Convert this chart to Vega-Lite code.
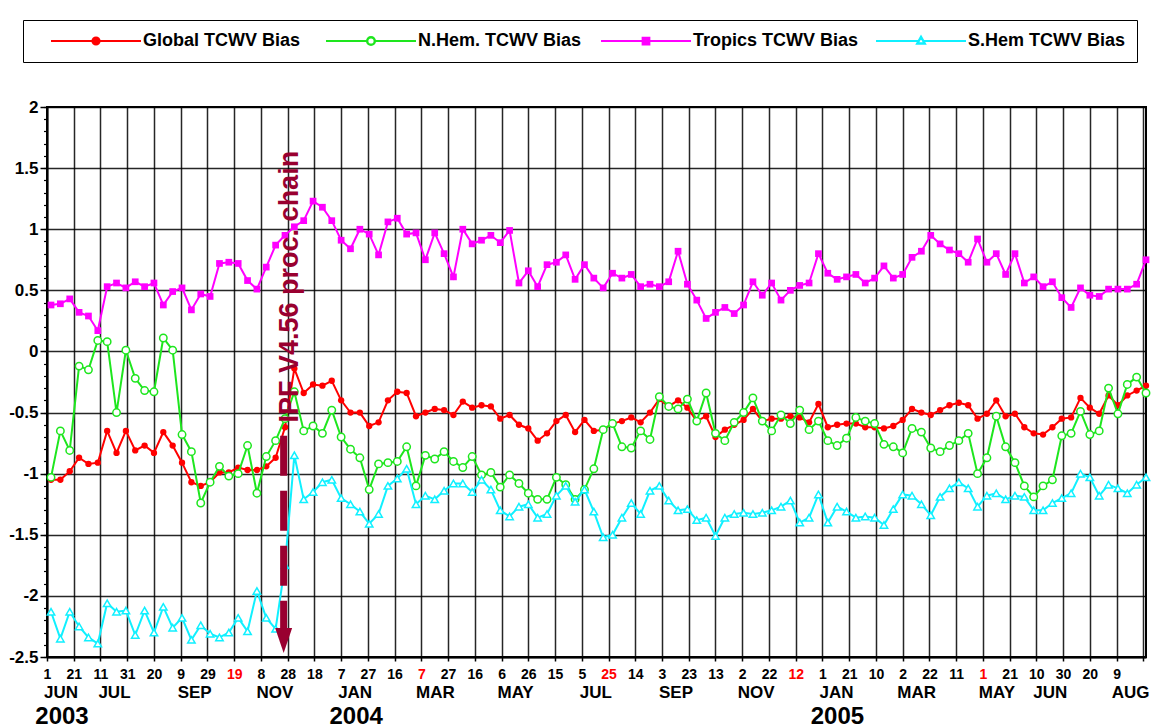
{
"$schema": "https://vega.github.io/schema/vega-lite/v6.json",
"width": 1099, "height": 550,
"autosize": {"type": "none"},
"padding": {"left": 47, "top": 107, "right": 5, "bottom": 70},
"background": "white",
"config": {"font": "Liberation Sans", "view": {"stroke": "black", "strokeWidth": 2}},
"data": {"values": [
{"d":"2003-06-04","g":-1.05,"n":-1.03,"t":0.38,"s":-2.13},
{"d":"2003-06-11","g":-1.05,"n":-0.65,"t":0.39,"s":-2.35},
{"d":"2003-06-18","g":-0.98,"n":-0.81,"t":0.43,"s":-2.13},
{"d":"2003-06-25","g":-0.87,"n":-0.12,"t":0.32,"s":-2.25},
{"d":"2003-07-02","g":-0.92,"n":-0.15,"t":0.29,"s":-2.34},
{"d":"2003-07-09","g":-0.91,"n":0.09,"t":0.17,"s":-2.39},
{"d":"2003-07-16","g":-0.65,"n":0.08,"t":0.53,"s":-2.06},
{"d":"2003-07-23","g":-0.83,"n":-0.50,"t":0.56,"s":-2.13},
{"d":"2003-07-30","g":-0.65,"n":0.01,"t":0.52,"s":-2.12},
{"d":"2003-08-06","g":-0.81,"n":-0.22,"t":0.57,"s":-2.32},
{"d":"2003-08-13","g":-0.77,"n":-0.32,"t":0.53,"s":-2.12},
{"d":"2003-08-20","g":-0.83,"n":-0.33,"t":0.56,"s":-2.30},
{"d":"2003-08-27","g":-0.66,"n":0.11,"t":0.38,"s":-2.09},
{"d":"2003-09-03","g":-0.77,"n":0.01,"t":0.49,"s":-2.26},
{"d":"2003-09-10","g":-0.91,"n":-0.68,"t":0.52,"s":-2.18},
{"d":"2003-09-17","g":-1.07,"n":-0.82,"t":0.34,"s":-2.36},
{"d":"2003-09-24","g":-1.10,"n":-1.24,"t":0.47,"s":-2.24},
{"d":"2003-10-01","g":-1.07,"n":-1.07,"t":0.45,"s":-2.31},
{"d":"2003-10-08","g":-0.99,"n":-0.94,"t":0.72,"s":-2.34},
{"d":"2003-10-15","g":-0.99,"n":-1.02,"t":0.73,"s":-2.30},
{"d":"2003-10-22","g":-0.95,"n":-1.00,"t":0.72,"s":-2.18},
{"d":"2003-10-29","g":-0.97,"n":-0.77,"t":0.58,"s":-2.29},
{"d":"2003-11-05","g":-0.97,"n":-1.16,"t":0.51,"s":-1.96},
{"d":"2003-11-12","g":-0.94,"n":-0.86,"t":0.69,"s":-2.18},
{"d":"2003-11-19","g":-0.87,"n":-0.73,"t":0.87,"s":-2.27},
{"d":"2003-11-26","g":-0.62,"n":-0.55,"t":0.95,"s":-1.75},
{"d":"2003-12-03","g":-0.14,"n":-0.33,"t":1.02,"s":-0.85},
{"d":"2003-12-10","g":-0.34,"n":-0.65,"t":1.07,"s":-1.21},
{"d":"2003-12-17","g":-0.27,"n":-0.61,"t":1.23,"s":-1.15},
{"d":"2003-12-24","g":-0.28,"n":-0.67,"t":1.18,"s":-1.07},
{"d":"2003-12-31","g":-0.24,"n":-0.48,"t":1.07,"s":-1.05},
{"d":"2004-01-07","g":-0.40,"n":-0.70,"t":0.91,"s":-1.20},
{"d":"2004-01-14","g":-0.50,"n":-0.80,"t":0.84,"s":-1.25},
{"d":"2004-01-21","g":-0.50,"n":-0.87,"t":1.00,"s":-1.31},
{"d":"2004-01-28","g":-0.61,"n":-1.13,"t":0.96,"s":-1.41},
{"d":"2004-02-04","g":-0.58,"n":-0.92,"t":0.79,"s":-1.33},
{"d":"2004-02-11","g":-0.40,"n":-0.91,"t":1.06,"s":-1.10},
{"d":"2004-02-18","g":-0.33,"n":-0.90,"t":1.09,"s":-1.04},
{"d":"2004-02-25","g":-0.34,"n":-0.78,"t":0.96,"s":-0.96},
{"d":"2004-03-03","g":-0.53,"n":-1.10,"t":0.97,"s":-1.25},
{"d":"2004-03-10","g":-0.50,"n":-0.85,"t":0.75,"s":-1.18},
{"d":"2004-03-17","g":-0.47,"n":-0.88,"t":0.97,"s":-1.21},
{"d":"2004-03-24","g":-0.48,"n":-0.82,"t":0.80,"s":-1.14},
{"d":"2004-03-31","g":-0.52,"n":-0.90,"t":0.61,"s":-1.08},
{"d":"2004-04-07","g":-0.41,"n":-0.95,"t":1.00,"s":-1.08},
{"d":"2004-04-14","g":-0.46,"n":-0.86,"t":0.88,"s":-1.15},
{"d":"2004-04-21","g":-0.44,"n":-1.01,"t":0.91,"s":-1.05},
{"d":"2004-04-28","g":-0.45,"n":-0.99,"t":0.95,"s":-1.13},
{"d":"2004-05-05","g":-0.55,"n":-1.11,"t":0.89,"s":-1.30},
{"d":"2004-05-12","g":-0.52,"n":-1.01,"t":0.99,"s":-1.35},
{"d":"2004-05-19","g":-0.60,"n":-1.08,"t":0.56,"s":-1.27},
{"d":"2004-05-26","g":-0.63,"n":-1.16,"t":0.66,"s":-1.25},
{"d":"2004-06-02","g":-0.73,"n":-1.21,"t":0.53,"s":-1.36},
{"d":"2004-06-09","g":-0.67,"n":-1.21,"t":0.71,"s":-1.33},
{"d":"2004-06-16","g":-0.57,"n":-1.03,"t":0.73,"s":-1.18},
{"d":"2004-06-23","g":-0.52,"n":-1.09,"t":0.79,"s":-1.10},
{"d":"2004-06-30","g":-0.66,"n":-1.21,"t":0.59,"s":-1.23},
{"d":"2004-07-07","g":-0.56,"n":-1.13,"t":0.71,"s":-1.13},
{"d":"2004-07-14","g":-0.65,"n":-0.96,"t":0.60,"s":-1.31},
{"d":"2004-07-21","g":-0.64,"n":-0.64,"t":0.52,"s":-1.52},
{"d":"2004-07-28","g":-0.59,"n":-0.59,"t":0.64,"s":-1.50},
{"d":"2004-08-04","g":-0.57,"n":-0.78,"t":0.60,"s":-1.36},
{"d":"2004-08-11","g":-0.54,"n":-0.79,"t":0.63,"s":-1.24},
{"d":"2004-08-18","g":-0.58,"n":-0.65,"t":0.53,"s":-1.33},
{"d":"2004-08-25","g":-0.50,"n":-0.72,"t":0.55,"s":-1.14},
{"d":"2004-09-01","g":-0.39,"n":-0.37,"t":0.53,"s":-1.10},
{"d":"2004-09-08","g":-0.45,"n":-0.45,"t":0.57,"s":-1.22},
{"d":"2004-09-15","g":-0.40,"n":-0.47,"t":0.82,"s":-1.30},
{"d":"2004-09-22","g":-0.46,"n":-0.39,"t":0.55,"s":-1.29},
{"d":"2004-09-29","g":-0.57,"n":-0.57,"t":0.42,"s":-1.38},
{"d":"2004-10-06","g":-0.53,"n":-0.34,"t":0.27,"s":-1.36},
{"d":"2004-10-13","g":-0.70,"n":-0.67,"t":0.32,"s":-1.51},
{"d":"2004-10-20","g":-0.64,"n":-0.73,"t":0.36,"s":-1.36},
{"d":"2004-10-27","g":-0.60,"n":-0.58,"t":0.31,"s":-1.33},
{"d":"2004-11-03","g":-0.56,"n":-0.50,"t":0.38,"s":-1.32},
{"d":"2004-11-10","g":-0.47,"n":-0.38,"t":0.57,"s":-1.33},
{"d":"2004-11-17","g":-0.57,"n":-0.57,"t":0.46,"s":-1.32},
{"d":"2004-11-24","g":-0.55,"n":-0.65,"t":0.56,"s":-1.30},
{"d":"2004-12-01","g":-0.55,"n":-0.52,"t":0.42,"s":-1.27},
{"d":"2004-12-08","g":-0.53,"n":-0.59,"t":0.50,"s":-1.22},
{"d":"2004-12-15","g":-0.54,"n":-0.48,"t":0.54,"s":-1.40},
{"d":"2004-12-22","g":-0.58,"n":-0.64,"t":0.56,"s":-1.36},
{"d":"2004-12-29","g":-0.43,"n":-0.57,"t":0.80,"s":-1.17},
{"d":"2005-01-05","g":-0.62,"n":-0.73,"t":0.64,"s":-1.40},
{"d":"2005-01-12","g":-0.60,"n":-0.77,"t":0.59,"s":-1.27},
{"d":"2005-01-19","g":-0.59,"n":-0.71,"t":0.61,"s":-1.31},
{"d":"2005-01-26","g":-0.59,"n":-0.54,"t":0.63,"s":-1.36},
{"d":"2005-02-02","g":-0.62,"n":-0.57,"t":0.56,"s":-1.35},
{"d":"2005-02-09","g":-0.62,"n":-0.59,"t":0.60,"s":-1.36},
{"d":"2005-02-16","g":-0.63,"n":-0.76,"t":0.70,"s":-1.42},
{"d":"2005-02-23","g":-0.61,"n":-0.78,"t":0.60,"s":-1.29},
{"d":"2005-03-02","g":-0.56,"n":-0.83,"t":0.63,"s":-1.17},
{"d":"2005-03-09","g":-0.47,"n":-0.63,"t":0.77,"s":-1.18},
{"d":"2005-03-16","g":-0.50,"n":-0.66,"t":0.82,"s":-1.25},
{"d":"2005-03-23","g":-0.52,"n":-0.79,"t":0.95,"s":-1.34},
{"d":"2005-03-30","g":-0.48,"n":-0.82,"t":0.88,"s":-1.19},
{"d":"2005-04-06","g":-0.44,"n":-0.77,"t":0.83,"s":-1.12},
{"d":"2005-04-13","g":-0.42,"n":-0.73,"t":0.80,"s":-1.07},
{"d":"2005-04-20","g":-0.44,"n":-0.67,"t":0.73,"s":-1.12},
{"d":"2005-04-27","g":-0.55,"n":-1.00,"t":0.92,"s":-1.27},
{"d":"2005-05-04","g":-0.51,"n":-0.87,"t":0.73,"s":-1.18},
{"d":"2005-05-11","g":-0.40,"n":-0.53,"t":0.80,"s":-1.16},
{"d":"2005-05-18","g":-0.53,"n":-0.78,"t":0.63,"s":-1.21},
{"d":"2005-05-25","g":-0.51,"n":-0.91,"t":0.80,"s":-1.18},
{"d":"2005-06-01","g":-0.62,"n":-1.10,"t":0.56,"s":-1.19},
{"d":"2005-06-08","g":-0.67,"n":-1.19,"t":0.61,"s":-1.30},
{"d":"2005-06-15","g":-0.68,"n":-1.10,"t":0.53,"s":-1.30},
{"d":"2005-06-22","g":-0.62,"n":-1.05,"t":0.57,"s":-1.24},
{"d":"2005-06-29","g":-0.55,"n":-0.69,"t":0.44,"s":-1.20},
{"d":"2005-07-06","g":-0.54,"n":-0.67,"t":0.36,"s":-1.16},
{"d":"2005-07-13","g":-0.38,"n":-0.49,"t":0.52,"s":-1.00},
{"d":"2005-07-20","g":-0.46,"n":-0.68,"t":0.46,"s":-1.03},
{"d":"2005-07-27","g":-0.51,"n":-0.65,"t":0.45,"s":-1.18},
{"d":"2005-08-03","g":-0.36,"n":-0.30,"t":0.51,"s":-1.09},
{"d":"2005-08-10","g":-0.44,"n":-0.51,"t":0.51,"s":-1.12},
{"d":"2005-08-17","g":-0.36,"n":-0.27,"t":0.51,"s":-1.16},
{"d":"2005-08-24","g":-0.32,"n":-0.21,"t":0.55,"s":-1.09},
{"d":"2005-08-31","g":-0.28,"n":-0.34,"t":0.75,"s":-1.03}
]},
"layer": [
{
 "transform": [{"fold": ["g"]}],
 "mark": {"type": "line", "strokeWidth": 2, "point": {"filled": true, "shape": "circle", "size": 40}},
 "encoding": {
  "x": {"field": "d", "type": "temporal",
   "scale": {"type": "utc", "domain": [{"year":2003,"month":6,"date":1,"utc":true},{"year":2005,"month":8,"date":31,"utc":true}], "nice": false},
   "axis": {"orient": "bottom", "title": null,
    "values": [
     {"year":2003,"month":6,"date":1,"utc":true},{"year":2003,"month":6,"date":21,"utc":true},{"year":2003,"month":7,"date":11,"utc":true},{"year":2003,"month":7,"date":31,"utc":true},{"year":2003,"month":8,"date":20,"utc":true},{"year":2003,"month":9,"date":9,"utc":true},{"year":2003,"month":9,"date":29,"utc":true},{"year":2003,"month":10,"date":19,"utc":true},{"year":2003,"month":11,"date":8,"utc":true},{"year":2003,"month":11,"date":28,"utc":true},{"year":2003,"month":12,"date":18,"utc":true},
     {"year":2004,"month":1,"date":7,"utc":true},{"year":2004,"month":1,"date":27,"utc":true},{"year":2004,"month":2,"date":16,"utc":true},{"year":2004,"month":3,"date":7,"utc":true},{"year":2004,"month":3,"date":27,"utc":true},{"year":2004,"month":4,"date":16,"utc":true},{"year":2004,"month":5,"date":6,"utc":true},{"year":2004,"month":5,"date":26,"utc":true},{"year":2004,"month":6,"date":15,"utc":true},{"year":2004,"month":7,"date":5,"utc":true},{"year":2004,"month":7,"date":25,"utc":true},{"year":2004,"month":8,"date":14,"utc":true},{"year":2004,"month":9,"date":3,"utc":true},{"year":2004,"month":9,"date":23,"utc":true},{"year":2004,"month":10,"date":13,"utc":true},{"year":2004,"month":11,"date":2,"utc":true},{"year":2004,"month":11,"date":22,"utc":true},{"year":2004,"month":12,"date":12,"utc":true},
     {"year":2005,"month":1,"date":1,"utc":true},{"year":2005,"month":1,"date":21,"utc":true},{"year":2005,"month":2,"date":10,"utc":true},{"year":2005,"month":3,"date":2,"utc":true},{"year":2005,"month":3,"date":22,"utc":true},{"year":2005,"month":4,"date":11,"utc":true},{"year":2005,"month":5,"date":1,"utc":true},{"year":2005,"month":5,"date":21,"utc":true},{"year":2005,"month":6,"date":10,"utc":true},{"year":2005,"month":6,"date":30,"utc":true},{"year":2005,"month":7,"date":20,"utc":true},{"year":2005,"month":8,"date":9,"utc":true},{"year":2005,"month":8,"date":29,"utc":true}
    ],
    "labelExpr": "(utcmonth(datum.value)==7 && utcdate(datum.value)==29) ? '' : '' + utcdate(datum.value)",
    "labelColor": {"condition": {"test": "(utcmonth(datum.value)==9&&utcdate(datum.value)==19)||(utcmonth(datum.value)==2&&utcdate(datum.value)==7)||(utcmonth(datum.value)==6&&utcdate(datum.value)==25)||(utcmonth(datum.value)==11&&utcdate(datum.value)==12)||(utcmonth(datum.value)==4&&utcdate(datum.value)==1)", "value": "#FF0000"}, "value": "black"},
    "labelFont": "Liberation Sans", "labelFontWeight": "bold", "labelFontSize": 14,
    "labelPadding": 6, "labelOverlap": false, "labelFlush": false, "labelBound": false,
    "tickSize": 4, "tickColor": "black", "tickWidth": 1.5,
    "domainColor": "black", "domainWidth": 2,
    "grid": true, "gridColor": "black", "gridWidth": 1.5, "gridOpacity": 0.85}},
  "y": {"field": "value", "type": "quantitative",
   "scale": {"domain": [-2.5, 2], "nice": false, "zero": false},
   "axis": {"orient": "left", "title": null,
    "values": [-2.5, -2, -1.5, -1, -0.5, 0, 0.5, 1, 1.5, 2],
    "labelExpr": "'' + datum.value",
    "labelFont": "Liberation Sans", "labelFontWeight": "bold", "labelFontSize": 17, "labelColor": "black",
    "labelPadding": 2, "labelFlush": false, "labelOverlap": false,
    "tickSize": 7, "tickColor": "black", "tickWidth": 1.5,
    "domainColor": "black", "domainWidth": 2,
    "grid": true, "gridColor": "black", "gridWidth": 1.5, "gridOpacity": 0.85}},
  "color": {"datum": "Global TCWV Bias", "type": "nominal",
   "scale": {"domain": ["Global TCWV Bias", "N.Hem. TCWV Bias", "Tropics TCWV Bias", "S.Hem TCWV Bias"], "range": ["#FF0000", "#1EE61E", "#FF00FF", "#10F0FF"]},
   "legend": {"orient": "none", "legendX": -24, "legendY": -87, "direction": "horizontal", "columns": 4, "gridAlign": "all", "title": null,
    "symbolSize": 8100, "symbolStrokeWidth": 2, "symbolOffset": 16, "labelOffset": 1, "clipHeight": 20,
    "labelFont": "Liberation Sans", "labelFontSize": 18, "labelFontWeight": "bold", "labelColor": "black", "labelLimit": 400,
    "columnPadding": 0, "padding": 11, "strokeColor": "black", "fillColor": "white",
    "encode": {"symbols": {"update": {
     "shape": {"signal": "datum.value === 'Tropics TCWV Bias' ? 'M-1,0H1M-0.075,-0.075H0.075V0.075H-0.075Z' : (datum.value === 'S.Hem TCWV Bias' ? 'M-1,0H-0.06M0.06,0H1M0,-0.1L0.09,0.06H-0.09ZM0,-0.085L-0.075,0.048H0.075Z' : (datum.value === 'N.Hem. TCWV Bias' ? 'M-1,0H-0.09M0.09,0H1M-0.09,0A0.09,0.09,0,1,1,0.09,0A0.09,0.09,0,1,1,-0.09,0ZM-0.08,0A0.08,0.08,0,1,0,0.08,0A0.08,0.08,0,1,0,-0.08,0Z' : 'M-1,0H1M-0.08,0A0.08,0.08,0,1,1,0.08,0A0.08,0.08,0,1,1,-0.08,0Z'))"},
     "fill": {"scale": "color", "field": "value"},
     "stroke": {"scale": "color", "field": "value"},
     "strokeWidth": {"value": 2},
     "opacity": {"value": 1}}}}}}
 }
},
{
 "transform": [{"fold": ["n"]}],
 "mark": {"type": "line", "strokeWidth": 2, "point": {"filled": false, "fill": "white", "shape": "circle", "size": 55, "strokeWidth": 1.5}},
 "encoding": {
  "x": {"field": "d", "type": "temporal", "axis": null},
  "y": {"field": "value", "type": "quantitative", "axis": null},
  "color": {"datum": "N.Hem. TCWV Bias", "type": "nominal"}
 }
},
{
 "transform": [{"fold": ["t"]}],
 "mark": {"type": "line", "strokeWidth": 2, "point": {"filled": true, "shape": "square", "size": 45}},
 "encoding": {
  "x": {"field": "d", "type": "temporal", "axis": null},
  "y": {"field": "value", "type": "quantitative", "axis": null},
  "color": {"datum": "Tropics TCWV Bias", "type": "nominal"}
 }
},
{
 "transform": [{"fold": ["s"]}],
 "mark": {"type": "line", "strokeWidth": 2, "point": {"filled": false, "fill": "white", "shape": "triangle-up", "size": 55, "strokeWidth": 1.5}},
 "encoding": {
  "x": {"field": "d", "type": "temporal", "axis": null},
  "y": {"field": "value", "type": "quantitative", "axis": null},
  "color": {"datum": "S.Hem TCWV Bias", "type": "nominal"}
 }
},
{
 "data": {"values": [{}]},
 "mark": {"type": "rule", "strokeWidth": 7, "strokeDash": [40, 15], "color": "#990030", "strokeCap": "butt"},
 "encoding": {
  "x": {"datum": {"year":2003,"month":11,"date":25,"utc":true}, "type": "temporal",
   "axis": {"orient": "bottom", "title": null,
    "values": [{"year":2003,"month":6,"date":1,"utc":true},{"year":2003,"month":7,"date":11,"utc":true},{"year":2003,"month":9,"date":9,"utc":true},{"year":2003,"month":11,"date":8,"utc":true},{"year":2004,"month":1,"date":7,"utc":true},{"year":2004,"month":3,"date":7,"utc":true},{"year":2004,"month":5,"date":6,"utc":true},{"year":2004,"month":7,"date":5,"utc":true},{"year":2004,"month":9,"date":3,"utc":true},{"year":2004,"month":11,"date":2,"utc":true},{"year":2005,"month":1,"date":1,"utc":true},{"year":2005,"month":3,"date":2,"utc":true},{"year":2005,"month":5,"date":1,"utc":true},{"year":2005,"month":6,"date":10,"utc":true},{"year":2005,"month":8,"date":9,"utc":true}],
    "labelExpr": "upper(utcFormat(datum.value, '%b'))",
    "labelFont": "Liberation Sans", "labelFontWeight": "bold", "labelFontSize": 17, "labelColor": "black",
    "labelOffset": 13.5, "labelPadding": 27, "labelOverlap": false, "labelFlush": false, "labelBound": false,
    "ticks": false, "tickSize": 0, "domain": false, "grid": false}},
  "y": {"datum": -0.69, "type": "quantitative",
   "axis": {"orient": "left", "title": null,
    "values": [-2.5,-2.4,-2.3,-2.2,-2.1,-2,-1.9,-1.8,-1.7,-1.6,-1.5,-1.4,-1.3,-1.2,-1.1,-1,-0.9,-0.8,-0.7,-0.6,-0.5,-0.4,-0.3,-0.2,-0.1,0,0.1,0.2,0.3,0.4,0.5,0.6,0.7,0.8,0.9,1,1.1,1.2,1.3,1.4,1.5,1.6,1.7,1.8,1.9,2],
    "labels": false, "domain": false, "grid": false, "tickSize": 3.5, "tickColor": "black", "tickWidth": 1.2}},
  "y2": {"datum": -2.31}
 }
},
{
 "data": {"values": [{}]},
 "mark": {"type": "point", "shape": "M-1,-1.47L1,-1.47L0,1.47Z", "size": 289, "filled": true, "color": "#990030", "opacity": 1},
 "encoding": {
  "x": {"datum": {"year":2003,"month":11,"date":25,"utc":true}, "type": "temporal", "axis": null},
  "y": {"datum": -2.365, "type": "quantitative", "axis": null}
 }
},
{
 "data": {"values": [{}]},
 "mark": {"type": "text", "text": "IPF V4.56 proc. chain", "angle": 270, "font": "Liberation Sans", "fontSize": 27, "fontWeight": "bold", "color": "#990030", "align": "center", "baseline": "alphabetic", "dy": 14},
 "encoding": {
  "x": {"datum": {"year":2003,"month":11,"date":25,"utc":true}, "type": "temporal",
   "axis": {"orient": "bottom", "title": null,
    "values": [{"year":2003,"month":6,"date":1,"utc":true},{"year":2004,"month":1,"date":7,"utc":true},{"year":2005,"month":1,"date":1,"utc":true}],
    "labelExpr": "utcFormat(datum.value, '%Y')",
    "labelFont": "Liberation Sans", "labelFontWeight": "bold", "labelFontSize": 24, "labelColor": "black",
    "labelOffset": 14.5, "labelPadding": 47, "labelOverlap": false, "labelFlush": false, "labelBound": false,
    "ticks": false, "tickSize": 0, "domain": false, "grid": false}},
  "y": {"datum": 0.53, "type": "quantitative", "axis": null}
 }
}
],
"resolve": {"axis": {"x": "independent", "y": "independent"}}
}
